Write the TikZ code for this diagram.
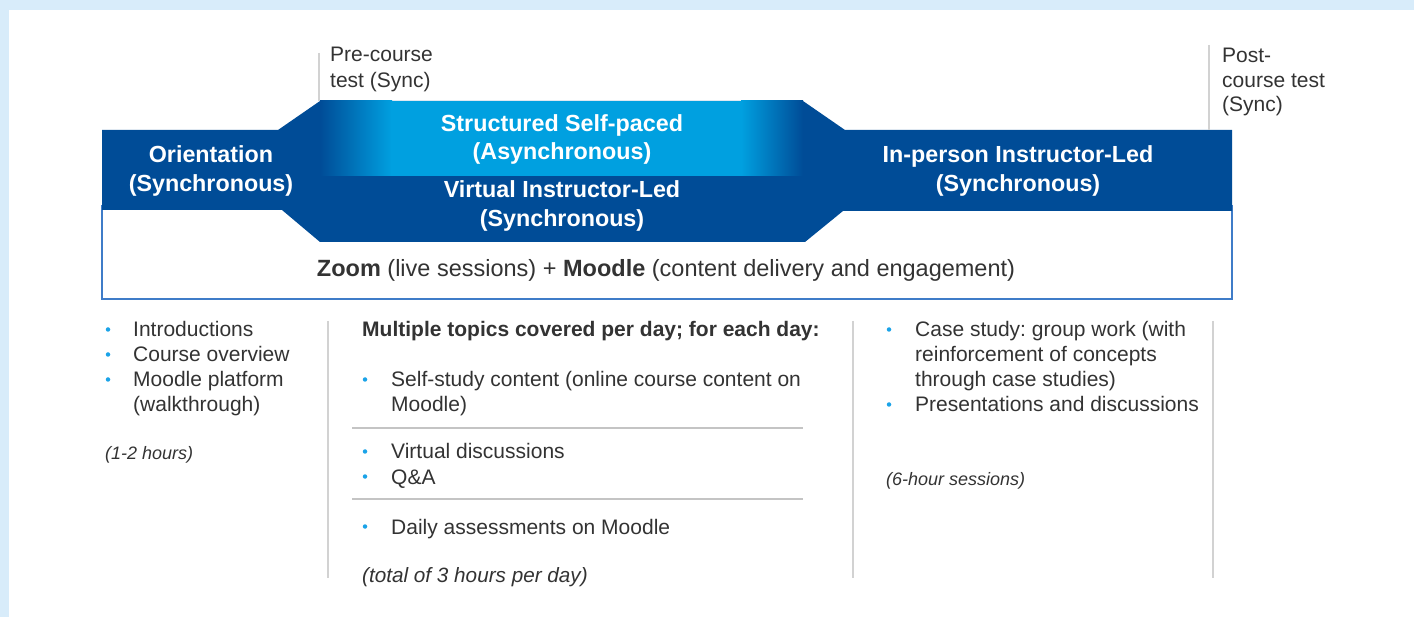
\documentclass[tikz,border=0pt]{standalone}
\usepackage{fontspec}
\setmainfont{Liberation Sans}
\frenchspacing
\definecolor{navy}{HTML}{004C97}
\definecolor{sky}{HTML}{00A0E0}
\definecolor{frameblue}{HTML}{3F7CC8}
\definecolor{pale}{HTML}{D8ECFA}
\definecolor{ink}{HTML}{333333}
\definecolor{rule}{HTML}{D2D2D2}
\definecolor{hrule}{HTML}{C4C4C4}
\definecolor{dotblue}{HTML}{1AA3E8}
\begin{document}
\begin{tikzpicture}[x=1pt,y=-1pt,
  hdr/.style={text=white, font=\fontsize{23.3}{28}\selectfont\bfseries, inner sep=0, anchor=base},
  body/.style={text=ink, font=\fontsize{21}{25}\selectfont, inner sep=0, anchor=base west},
  note/.style={text=ink, font=\fontsize{18}{22}\selectfont\itshape, inner sep=0, anchor=base west},
  dot/.style={circle, fill=dotblue, inner sep=0, minimum size=4.5pt},
  divider/.style={draw=rule, line width=2pt},
  sep/.style={draw=hrule, line width=1.5pt},
]
\useasboundingbox (0,0) rectangle (1414,617);
% page background with pale band on top and left
\fill[white] (0,0) rectangle (1414,617);
\fill[pale] (0,0) rectangle (1414,10);
\fill[pale] (0,0) rectangle (9,617);

% outline of the tools box
\draw[frameblue, line width=2pt] (102,205) -- (102,299) -- (1232,299) -- (1232,205);
% dark phase band
\fill[navy] (102,130) -- (278,130) -- (320,101) -- (803,101) -- (845,130) -- (1232,130)
  -- (1232,211) -- (843,211) -- (805,242) -- (320,242) -- (282,210) -- (102,210) -- cycle;
% light self-paced strip with soft edges
\shade[left color=navy, right color=sky] (320,101) rectangle (392,176);
\fill[sky] (391,101) rectangle (742,176);
\shade[left color=sky, right color=navy] (741,101) rectangle (803,176);

% phase titles
\node[hdr] (ori1) at (211,163) {Orientation};
\node[hdr] (ori2) at (211,192) {(Synchronous)};
\node[hdr] (sp1) at (562,132) {Structured Self-paced};
\node[hdr] (sp2) at (562,160) {(Asynchronous)};
\node[hdr] (vi1) at (562,198) {Virtual Instructor-Led};
\node[hdr] (vi2) at (562,227) {(Synchronous)};
\node[hdr] (ip1) at (1018,163) {In-person Instructor-Led};
\node[hdr] (ip2) at (1018,192) {(Synchronous)};

\node[text=ink, font=\fontsize{23.5}{28}\selectfont, inner sep=0, anchor=base] (tools) at (666,277)
  {\textbf{Zoom} (live sessions) + \textbf{Moodle} (content delivery and engagement)};

% test markers
\draw[rule, line width=1.2pt] (319,53) -- (319,101);
\node[body] (pre1) at (330,62) {Pre-course};
\node[body] (pre2) at (330,88) {test (Sync)};
\draw[rule, line width=1.2pt] (1209,45) -- (1209,130);
\node[body] (post1) at (1222,63) {Post-};
\node[body] (post2) at (1222,88) {course test};
\node[body] (post3) at (1222,112) {(Sync)};

% orientation column
\node[dot] (d1) at (108,329.5) {};
\node[body] (l1) at (133,337) {Introductions};
\node[dot] (d2) at (108,354.5) {};
\node[body] (l2) at (133,362) {Course overview};
\node[dot] (d3) at (108,379.5) {};
\node[body] (l3) at (133,387) {Moodle platform};
\node[body] (l3b) at (133,412) {(walkthrough)};
\node[note] (l4) at (105,460) {(1-2 hours)};

\draw[divider] (328,321) -- (328,578);

% virtual column
\node[body, font=\fontsize{21}{25}\selectfont\bfseries] (m0) at (362,337) {Multiple topics covered per day; for each day:};
\node[dot] (d4) at (365,379.5) {};
\node[body] (m1) at (391,387) {Self-study content (online course content on};
\node[body] (m1b) at (391,412) {Moodle)};
\draw[sep] (352,428) -- (803,428);
\node[dot] (d5) at (365,451.5) {};
\node[body] (m2) at (391,459) {Virtual discussions};
\node[dot] (d6) at (365,476.5) {};
\node[body] (m3) at (391,484) {Q\&A};
\draw[sep] (352,499) -- (803,499);
\node[dot] (d7) at (365,526.5) {};
\node[body] (m4) at (391,534) {Daily assessments on Moodle};
\node[note, font=\fontsize{20.7}{25}\selectfont\itshape] (m5) at (362,582) {(total of 3 hours per day)};

\draw[divider] (853,321) -- (853,578);

% in-person column
\node[dot] (d8) at (889,329.5) {};
\node[body] (r1) at (915,337) {Case study: group work (with};
\node[body] (r1b) at (915,362) {reinforcement of concepts};
\node[body] (r1c) at (915,387) {through case studies)};
\node[dot] (d9) at (889,404.5) {};
\node[body] (r2) at (915,412) {Presentations and discussions};
\node[note] (r3) at (886,485) {(6-hour sessions)};

\draw[divider] (1213,321) -- (1213,578);
\end{tikzpicture}
\end{document}
